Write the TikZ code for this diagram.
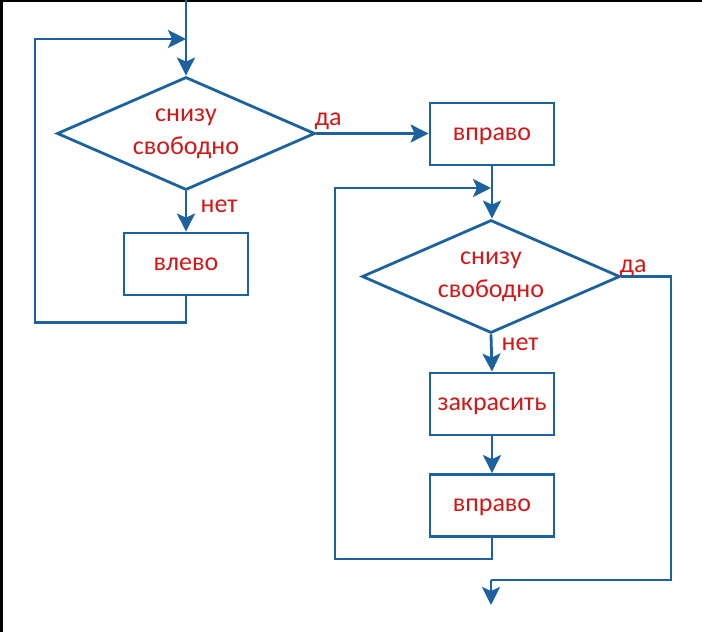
\documentclass[tikz,border=0pt]{standalone}
\usepackage{fontspec}
\setmainfont{Carlito}
\usetikzlibrary{shapes.geometric,arrows.meta}
\definecolor{blu}{RGB}{28,98,158}
\definecolor{rosso}{RGB}{212,22,22}
\tikzset{
  blocco/.style={draw=blu,line width=2.8pt,minimum width=124pt,minimum height=62pt,inner sep=0pt,text=rosso,text depth=0pt},
  scelta/.style={draw=blu,line width=2.8pt,shape=diamond,aspect=2.28,minimum width=258pt,minimum height=113pt,inner sep=0pt,text=rosso,align=center},
  tratto/.style={draw=blu,line width=2.8pt},
  freccia/.style={tratto,-{Stealth[length=18pt 0,width=18pt 0,inset=4pt 0]}},
  etich/.style={text=rosso,inner sep=0pt,anchor=base}
}
\begin{document}
\begin{tikzpicture}[x=1pt,y=-1pt,font=\fontsize{26}{33}\selectfont]
  \useasboundingbox (0,0) rectangle (702,632);
  \fill[black] (0,0) rectangle (702,2); %bordo sopra
  \fill[black] (0,0) rectangle (3,632); %bordo sinistro
  % ciclo sinistro
  \node[scelta] (dom1) at (186,133.5) {снизу\\свободно};
  \node[blocco] (sin) at (186,264) {влево};
  \coordinate (inizio) at (186,0);
  \coordinate (giunto1) at (186,39);
  \draw[freccia] (inizio) -- (dom1.north);
  \draw[freccia] (dom1.south) -- (sin.north);
  \draw[freccia] (sin.south) -- ++(0,26) -| (35,39) -- (giunto1);
  \node[etich] (si1) at (328,125) {да};
  \node[etich] (no1) at (219,212) {нет};
  % ciclo destro
  \node[blocco] (des1) at (492,134) {вправо};
  \node[scelta] (dom2) at (491,276.5) {снизу\\свободно};
  \node[blocco] (col) at (492,404) {закрасить};
  \node[blocco] (des2) at (492,505.5) {вправо};
  \coordinate (giunto2) at (491,188);
  \coordinate (fine) at (491,605);
  \draw[freccia] (dom1.east) -- (dom1.east -| des1.west);
  \draw[freccia] (des1.south) -- (des1.south |- dom2.north);
  \draw[freccia] (dom2.south) -- (col.north);
  \draw[freccia] (col.south) -- (des2.north);
  \draw[freccia] (des2.south) -- ++(0,21) -| (335,188) -- (giunto2);
  \draw[tratto] (dom2.east) -- (671,276.5) |- (491,580);
  \draw[freccia] (491,580) -- (fine);
  \node[etich] (si2) at (633,272) {да};
  \node[etich] (no2) at (520,350) {нет};
\end{tikzpicture}
\end{document}
